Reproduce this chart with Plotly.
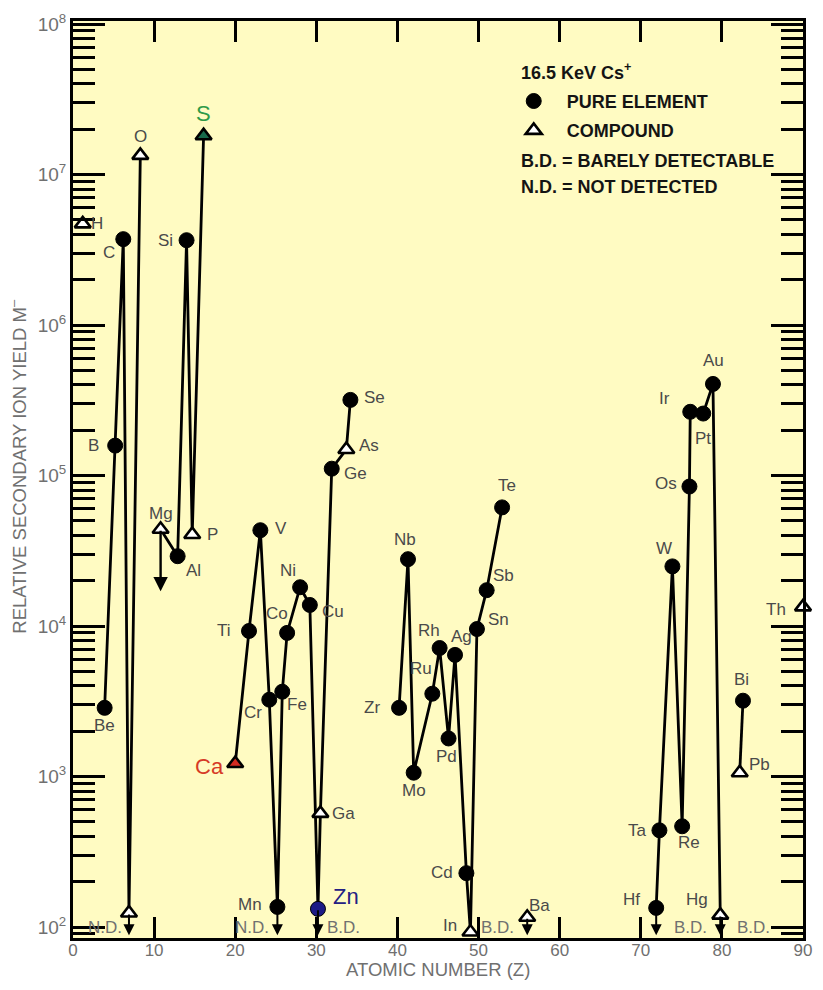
import numpy as np
import plotly.graph_objects as go

# ---- data -------------------------------------------------------------
elements = ["H", "Be", "B", "C", "N", "O", "Mg", "Al", "Si", "P", "S",
            "Ca", "Ti", "V", "Cr", "Mn", "Fe", "Co", "Ni", "Cu", "Zn", "Ga",
            "Ge", "As", "Se", "Zr", "Nb", "Mo", "Ru", "Rh", "Pd", "Ag", "Cd",
            "In", "Sn", "Sb", "Te", "Ba", "Hf", "Ta", "W", "Re", "Os", "Ir",
            "Pt", "Au", "Hg", "Pb", "Bi", "Th"]

z_position = [1.2, 3.9, 5.2, 6.2, 6.9, 8.3, 10.8, 12.9, 14.0, 14.7, 16.1,
              20.0, 21.7, 23.1, 24.2, 25.2, 25.8, 26.4, 28.0, 29.2, 30.2, 30.5,
              31.9, 33.7, 34.2, 40.2, 41.3, 42.0, 44.3, 45.2, 46.3, 47.1, 48.5,
              49.0, 49.8, 51.0, 52.9, 56.0, 71.9, 72.3, 73.9, 75.1, 76.0, 76.1,
              77.7, 78.9, 79.8, 82.2, 82.6, 90.0]

ion_yield = [4.7e6, 2.86e3, 1.58e5, 3.72e6, 124, 1.34e7, 4.39e4, 2.91e4, 3.66e6, 4.06e4, 1.81e7,
             1220, 9270, 4.33e4, 3240, 136, 3660, 9000, 1.81e4, 1.38e4, 132, 569,
             1.11e5, 1.49e5, 3.18e5, 2860, 2.78e4, 1060, 3550, 7140, 1790, 6430, 228,
             92.6, 9550, 1.73e4, 6.14e4, 116, 134, 439, 2.49e4, 467, 8.45e4, 2.65e5,
             2.58e5, 4.06e5, 120, 1060, 3190, 1.34e4]

compounds = ["H", "N", "O", "Mg", "P", "S", "Ca", "Ga", "As", "In", "Ba", "Hg", "Pb", "Th"]

chains = [
    ["Be", "B", "C", "N", "O"],
    ["Mg", "Al", "Si", "P", "S"],
    ["Ca", "Ti", "V", "Cr", "Mn", "Fe", "Co", "Ni", "Cu", "Zn", "Ga", "Ge", "As", "Se"],
    ["Zr", "Nb", "Mo", "Ru", "Rh", "Pd", "Ag", "Cd", "In", "Sn", "Sb", "Te"],
    ["Hf", "Ta", "W", "Re", "Os", "Ir", "Pt", "Au", "Hg"],
    ["Bi", "Pb"],
]

not_detected = ["N", "Mn"]
barely_detectable = ["Zn", "Ba", "Hf", "Hg"]
mg_upper_limit = 1.7e4
detection_floor = 88

# ---- styling ----------------------------------------------------------
FONT = "Liberation Sans, Arial, sans-serif"
LABEL_GRAY = "#4a4a4a"
AXIS_GRAY = "#707070"
KEY_BLACK = "#141414"

highlight = {  # marker fill, label colour
    "S": ("#17694a", "#2f9a48"),
    "Ca": ("#d42a20", "#d63a26"),
    "Zn": ("#1c1a86", "#242083"),
}

label_offset = {
    "H": (14, 0), "Be": (0, -18), "B": (-22, 0), "C": (-14, -13), "N": (0, 0),
    "O": (0, 19), "Mg": (0, 16), "Al": (16, -14), "Si": (-21, 0), "P": (20, 0),
    "S": (0, 22), "Ca": (-26, -3), "Ti": (-25, 0), "V": (21, 2), "Cr": (-16, -13),
    "Mn": (-27, 2), "Fe": (15, -13), "Co": (-10, 19), "Ni": (-12, 17), "Cu": (23, -7),
    "Zn": (28, 12), "Ga": (23, 0), "Ge": (24, -5), "As": (23, 4), "Se": (24, 2),
    "Zr": (-27, 0), "Nb": (-3, 20), "Mo": (0, -18), "Ru": (-11, 25), "Rh": (-11, 18),
    "Pd": (-2, -18), "Ag": (6, 18), "Cd": (-24, 1), "In": (-20, 7), "Sn": (22, 10),
    "Sb": (17, 15), "Te": (5, 22), "Ba": (12, 12), "Hf": (-25, 8), "Ta": (-22, 0),
    "W": (-8, 18), "Re": (7, -16), "Os": (-23, 3), "Ir": (-26, 13), "Pt": (0, -25),
    "Au": (1, 23), "Hg": (-23, 16), "Pb": (20, 8), "Bi": (-1, 21), "Th": (-27, -3),
}

pos = dict(zip(elements, z_position))
val = dict(zip(elements, ion_yield))

fig = go.Figure()

# connecting lines
for chain in chains:
    fig.add_trace(go.Scatter(
        x=[pos[s] for s in chain], y=[val[s] for s in chain],
        mode="lines", line=dict(color="black", width=2.8),
        showlegend=False, hoverinfo="skip", cliponaxis=False))

pure = [s for s in elements if s not in compounds]
comp = [s for s in elements if s in compounds]

fig.add_trace(go.Scatter(
    x=[pos[s] for s in pure], y=[val[s] for s in pure], text=pure,
    mode="markers", name="PURE ELEMENT", legendgroup="pure",
    marker=dict(symbol="circle", size=15,
                color=[highlight[s][0] if s in highlight else "black" for s in pure],
                line=dict(color="black", width=1)),
    cliponaxis=False))

fig.add_trace(go.Scatter(
    x=[pos[s] for s in comp], y=[val[s] for s in comp], text=comp,
    mode="markers", name="COMPOUND", legendgroup="comp",
    marker=dict(symbol="triangle-up", size=14,
                color=[highlight[s][0] if s in highlight else "white" for s in comp],
                line=dict(color="black", width=2.6)),
    cliponaxis=False))

annotations = []

# element labels
for s in elements:
    if s == "N":
        continue
    dx, dy = label_offset[s]
    big = s in highlight
    annotations.append(dict(
        x=pos[s], y=np.log10(val[s]), xref="x", yref="y",
        text=s, showarrow=False, xshift=dx, yshift=dy,
        font=dict(family=FONT, size=22 if big else 17,
                  color=highlight[s][1] if big else LABEL_GRAY)))

# detection-limit arrows and tags
for s in not_detected + barely_detectable:
    annotations.append(dict(
        x=pos[s], y=np.log10(detection_floor), ax=pos[s], ay=np.log10(val[s]),
        xref="x", yref="y", axref="x", ayref="y", text="", showarrow=True,
        arrowhead=2, arrowsize=1.1, arrowwidth=2, arrowcolor="black"))

tag_shift = {"N": -24, "Mn": -25, "Zn": 26, "Ba": -30, "Hf": 34, "Hg": 33}
for s in not_detected + barely_detectable:
    annotations.append(dict(
        x=pos[s], y=2.0, xref="x", yref="y", showarrow=False,
        text="N.D." if s in not_detected else "B.D.", xshift=tag_shift[s],
        font=dict(family=FONT, size=17, color=AXIS_GRAY)))

annotations.append(dict(
    x=pos["Mg"], y=np.log10(mg_upper_limit), ax=pos["Mg"], ay=np.log10(val["Mg"]),
    xref="x", yref="y", axref="x", ayref="y", text="", showarrow=True,
    arrowhead=2, arrowsize=1.2, arrowwidth=2.4, arrowcolor="black"))

# key text
def px_y(ypx):
    return 1 - (ypx - 18) / 920

key_x = (524 - 73) / 739
for txt, ypx in [("16.5 KeV Cs<sup>+</sup>", 69),
                 ("B.D. = BARELY DETECTABLE", 158),
                 ("N.D. = NOT DETECTED", 185)]:
    annotations.append(dict(
        x=key_x, y=px_y(ypx), xref="paper", yref="paper",
        xanchor="left", yanchor="middle", text=f"<b>{txt}</b>", showarrow=False,
        font=dict(family=FONT, size=18, color=KEY_BLACK)))

# axis titles
annotations.append(dict(
    x=0, y=0.514, xref="paper", yref="paper", xshift=-55, textangle=-90,
    xanchor="center", yanchor="middle",
    text="RELATIVE SECONDARY ION YIELD M<sup>\u2013</sup>", showarrow=False,
    font=dict(family=FONT, size=18.5, color=AXIS_GRAY)))
annotations.append(dict(
    x=0.5, y=0, xref="paper", yref="paper", yshift=-31, yanchor="middle",
    xanchor="center", text="ATOMIC NUMBER (Z)", showarrow=False,
    font=dict(family=FONT, size=18.5, color=AXIS_GRAY)))

fig.update_layout(
    width=823, height=990,
    margin=dict(l=73, r=11, t=18, b=52),
    plot_bgcolor="#FFFBC2", paper_bgcolor="white",
    font=dict(family=FONT),
    annotations=annotations,
    showlegend=True,
    legend=dict(
        x=(506 - 73) / 739, y=px_y(80), xanchor="left", yanchor="top",
        bgcolor="rgba(0,0,0,0)", tracegroupgap=3, itemwidth=56,
        font=dict(family=FONT, size=18, color=KEY_BLACK, weight="bold")),
    xaxis=dict(
        range=[0, 90], dtick=10, tick0=0, showgrid=False, zeroline=False,
        showline=True, linecolor="black", linewidth=3, mirror="ticks",
        ticks="inside", ticklen=21, tickwidth=2.6, tickcolor="black",
        ticklabelstandoff=-5,
        tickfont=dict(family=FONT, size=17, color=AXIS_GRAY)),
    yaxis=dict(
        type="log", range=[1.927, 8.02], showgrid=False, zeroline=False,
        tickmode="array", tickvals=[1e2, 1e3, 1e4, 1e5, 1e6, 1e7, 1e8],
        ticktext=[f"10<sup>{k}</sup>" for k in range(2, 9)],
        showline=True, linecolor="black", linewidth=3, mirror="ticks",
        ticks="inside", ticklen=32, tickwidth=2.6, tickcolor="black",
        minor=dict(ticks="inside", ticklen=22, tickwidth=2.6, tickcolor="black",
                   dtick="D1", showgrid=False),
        tickfont=dict(family=FONT, size=19, color=AXIS_GRAY)),
)

fig.write_html("out.html")
